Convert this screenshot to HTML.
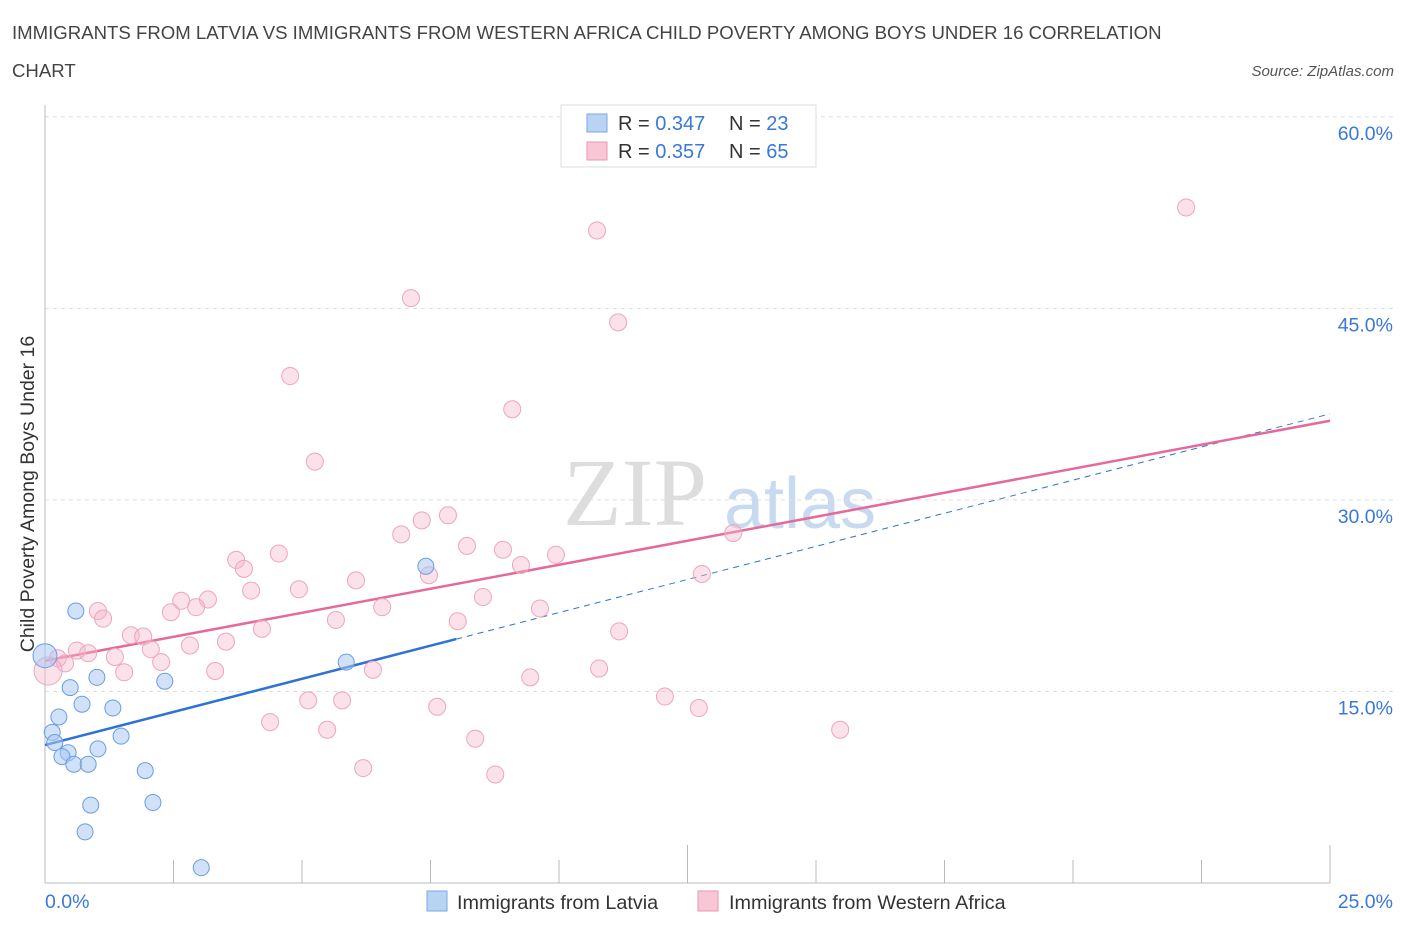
<!DOCTYPE html>
<html><head><meta charset="utf-8"><style>
body{margin:0;background:#fff;font-family:"Liberation Sans",sans-serif;}
svg{display:block}
</style></head><body>
<svg width="1406" height="930">
<text x="12" y="39" font-size="18.6" fill="#444">IMMIGRANTS FROM LATVIA VS IMMIGRANTS FROM WESTERN AFRICA CHILD POVERTY AMONG BOYS UNDER 16 CORRELATION</text>
<text x="12" y="77" font-size="18.6" fill="#444">CHART</text>
<text x="1394" y="76" font-size="15" fill="#555" font-style="italic" text-anchor="end">Source: ZipAtlas.com</text>
<text x="635" y="525" font-size="96" fill="#ddd" font-family="Liberation Serif" text-anchor="middle">ZIP</text>
<text x="800" y="528" font-size="72" fill="#c8daf0" text-anchor="middle">atlas</text>
<g id="grid"></g>
<g id="axes"></g>
<text transform="translate(34,494) rotate(-90)" font-size="19.5" fill="#333" text-anchor="middle">Child Poverty Among Boys Under 16</text>
<g id="lines"></g>
<g id="points"></g>
<rect x="561" y="105" width="255" height="62" fill="#fff" stroke="#ddd"/>
<rect x="587" y="114" width="20" height="18" fill="#b9d3f5" stroke="#7aa7e0"/>
<rect x="587" y="142" width="20" height="18" fill="#f9c6d5" stroke="#e89ab3"/>
<text x="618" y="130" font-size="20" fill="#333">R = <tspan fill="#3a78d8">0.347</tspan><tspan x="729">N = </tspan><tspan fill="#3a78d8">23</tspan></text>
<text x="618" y="158" font-size="20" fill="#333">R = <tspan fill="#3a78d8">0.357</tspan><tspan x="729">N = </tspan><tspan fill="#3a78d8">65</tspan></text>
<rect x="427" y="891" width="20" height="20" fill="#b9d3f5" stroke="#7aa7e0"/>
<text x="457" y="909" font-size="19.8" fill="#333">Immigrants from Latvia</text>
<rect x="698" y="891" width="20" height="20" fill="#f9c6d5" stroke="#e89ab3"/>
<text x="729" y="909" font-size="19.8" fill="#333">Immigrants from Western Africa</text>
</svg>
<script>
const yTicks=[15,30,45,60];
const xTickLabels=["0.0%","25.0%"];
const latviaX=[0,0.60,1.01,0.49,0.72,1.32,0.27,0.14,0.19,0.45,0.33,1.03,1.48,0.56,0.84,1.95,0.89,2.10,0.78,3.04,2.33,5.86,7.41];
const latviaY=[17.8,21.3,16.1,15.3,14.0,13.7,13.0,11.8,11.0,10.2,9.9,10.5,11.5,9.3,9.3,8.8,6.1,6.3,4.0,1.2,15.8,17.3,24.8];
const africaX=[22.2,10.74,7.12,11.15,4.77,9.09,5.25,7.84,7.33,6.93,8.21,8.91,9.94,4.55,3.72,3.87,7.47,9.26,13.39,12.78,6.05,4.01,4.94,2.65,3.17,2.94,2.45,1.03,1.13,6.56,5.66,8.03,9.63,8.52,11.17,4.22,1.67,1.91,3.52,2.82,2.06,0.62,0.84,0.25,1.36,2.26,0.39,0.06,1.54,3.31,6.38,9.44,10.78,5.12,5.78,4.38,5.49,7.63,12.06,12.72,15.47,8.37,6.19,8.76];
const africaY=[52.9,51.1,45.8,43.9,39.7,37.1,33.0,28.8,28.4,27.3,26.4,26.1,25.7,25.8,25.3,24.6,24.1,24.9,27.4,24.2,23.7,22.9,23.0,22.1,22.2,21.6,21.2,21.3,20.7,21.6,20.6,20.5,21.5,22.4,19.7,19.9,19.4,19.3,18.9,18.6,18.3,18.2,18.0,17.6,17.7,17.3,17.2,16.6,16.5,16.6,16.7,16.1,16.8,14.3,14.3,12.6,12.0,13.8,14.6,13.7,12.0,11.3,9.0,8.5];
const latviaTrend=[10.8,19.1];const latviaTrendEndX=8.0;
const africaTrend=[17.4,36.2];
const sx=v=>45+v*51.4, sy=v=>883-v*12.77;
const NS="http://www.w3.org/2000/svg";
function mk(tag,attrs,parent){const e=document.createElementNS(NS,tag);for(const k in attrs)e.setAttribute(k,attrs[k]);document.getElementById(parent).appendChild(e);return e;}
yTicks.forEach(t=>{
 const l=mk('line',{x1:45,x2:1395,y1:sy(t),y2:sy(t),stroke:'#ddd','stroke-dasharray':'4,4'},'grid');
 
 
 const tx=mk('text',{x:1393,y:sy(t)+23,'font-size':19.5,fill:'#3a78d8','text-anchor':'end'},'grid');tx.textContent=t.toFixed(1)+'%';
 
 
});
let a=mk('line',{x1:45,x2:45,y1:105,y2:883,stroke:'#bbb'},'axes');


a=mk('line',{x1:45,x2:1330,y1:883,y2:883,stroke:'#bbb'},'axes');


for(let i=0;i<=10;i++){const x=45+i*128.5;const t=mk('line',{x1:x,x2:x,y1:883,y2:(i==5||i==10)?845:860,stroke:'#bbb'},'axes');
 
 }
xTickLabels.forEach((s,i)=>{const t=mk('text',{x:i?1393:45,y:908,'font-size':19.5,fill:'#3a78d8','text-anchor':i?'end':'start'},'axes');t.textContent=s;
 
 });
const lf=x=>latviaTrend[0]+(latviaTrend[1]-latviaTrend[0])*x/latviaTrendEndX;
let ln=mk('line',{x1:sx(0),y1:sy(lf(0)),x2:sx(latviaTrendEndX),y2:sy(lf(latviaTrendEndX)),stroke:'#2f72d6','stroke-width':2.5},'lines');


ln=mk('line',{x1:sx(latviaTrendEndX),y1:sy(lf(latviaTrendEndX)),x2:sx(25),y2:sy(lf(25)),stroke:'#2f72d6','stroke-width':1,'stroke-dasharray':'6,5'},'lines');


ln=mk('line',{x1:sx(0),y1:sy(africaTrend[0]),x2:sx(25),y2:sy(africaTrend[1]),stroke:'#e5699a','stroke-width':2.5},'lines');


africaX.forEach((x,i)=>{const c=mk('circle',{cx:sx(x),cy:sy(africaY[i]),r:i==47?14:8.5,fill:'rgba(246,182,202,0.4)',stroke:'#eda5bd','stroke-width':1},'points');
 
 });
latviaX.forEach((x,i)=>{const c=mk('circle',{cx:sx(x),cy:sy(latviaY[i]),r:i==0?12:8,fill:'rgba(170,201,242,0.55)',stroke:'#6a9ee0','stroke-width':1},'points');
 
 });
</script>
</body></html>
